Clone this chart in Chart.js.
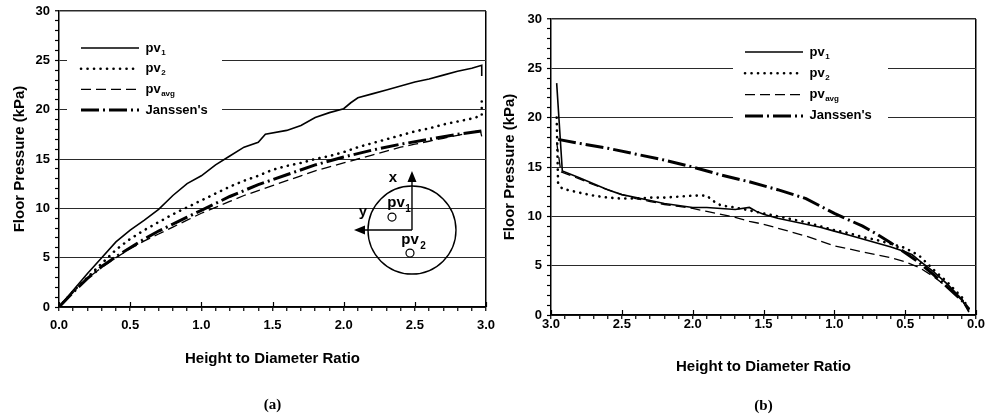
<!DOCTYPE html>
<html>
<head>
<meta charset="utf-8">
<title>Floor pressure vs height to diameter ratio</title>
<script src="https://cdn.jsdelivr.net/npm/chart.js@4.4.1/dist/chart.umd.min.js"></script>
<style>
  html, body { margin: 0; padding: 0; background: #fff; }
  #wrap { position: relative; width: 989px; height: 419px; }
  canvas { position: absolute; top: 0; }
  #chartA { left: 0; }
  #chartB { left: 495px; }
</style>
</head>
<body>
<div id="wrap">
  <canvas id="chartA" width="495" height="419"></canvas>
  <canvas id="chartB" width="494" height="419"></canvas>
</div>
<script>
// series names (legend order)
const seriesNames = ["pv1", "pv2", "pvavg", "Janssen's"];

// labelled ticks, minor ticks in between
const xMajorTicks = [0, 0.5, 1.0, 1.5, 2.0, 2.5, 3.0];
const yMajorTicks = [0, 5, 10, 15, 20, 25, 30];

// (a) filling: [height/diameter, floor pressure kPa]
const aPv1 = [[0, 0], [0.1, 1.7], [0.2, 3.4], [0.3, 5.0], [0.4, 6.6], [0.5, 7.8], [0.6, 8.8],
  [0.7, 9.9], [0.8, 11.3], [0.9, 12.5], [1.0, 13.3], [1.1, 14.4], [1.2, 15.3], [1.3, 16.2],
  [1.4, 16.7], [1.45, 17.5], [1.6, 17.9], [1.7, 18.4], [1.8, 19.2], [1.9, 19.7], [2.0, 20.1],
  [2.05, 20.7], [2.1, 21.2], [2.2, 21.6], [2.3, 22.0], [2.4, 22.4], [2.5, 22.8], [2.6, 23.1],
  [2.7, 23.5], [2.8, 23.9], [2.9, 24.2], [2.97, 24.5], [2.97, 23.4]];
const aPv2 = [[0, 0], [0.1, 1.6], [0.2, 3.0], [0.3, 4.4], [0.4, 5.8], [0.5, 6.9], [0.6, 7.8],
  [0.7, 8.6], [0.8, 9.4], [0.9, 10.1], [1.0, 10.8], [1.1, 11.5], [1.2, 12.2], [1.3, 12.8],
  [1.4, 13.3], [1.5, 13.9], [1.6, 14.3], [1.7, 14.6], [1.8, 15.0], [1.9, 15.3], [2.0, 15.7],
  [2.1, 16.2], [2.2, 16.6], [2.3, 17.0], [2.4, 17.4], [2.5, 17.8], [2.6, 18.1], [2.7, 18.5],
  [2.8, 18.8], [2.9, 19.1], [2.97, 19.4], [2.97, 21.0]];
const aPvAvg = [[0, 0], [0.1, 1.5], [0.2, 2.9], [0.3, 4.0], [0.4, 5.0], [0.5, 5.9], [0.6, 6.7],
  [0.7, 7.4], [0.8, 8.1], [0.9, 8.8], [1.0, 9.5], [1.1, 10.1], [1.2, 10.7], [1.3, 11.3],
  [1.4, 11.8], [1.5, 12.3], [1.6, 12.8], [1.7, 13.3], [1.8, 13.8], [1.9, 14.2], [2.0, 14.6],
  [2.1, 15.0], [2.2, 15.4], [2.3, 15.8], [2.4, 16.2], [2.5, 16.5], [2.6, 16.8], [2.7, 17.1],
  [2.8, 17.4], [2.9, 17.7], [2.96, 17.9], [2.97, 17.3]];
const aJanssen = [[0, 0], [0.1, 1.5], [0.2, 2.9], [0.3, 4.1], [0.4, 5.1], [0.5, 6.0], [0.6, 6.9],
  [0.7, 7.7], [0.8, 8.4], [0.9, 9.1], [1.0, 9.8], [1.2, 11.2], [1.4, 12.4], [1.6, 13.4],
  [1.8, 14.4], [2.0, 15.2], [2.2, 15.9], [2.4, 16.5], [2.6, 17.0], [2.8, 17.5], [3.0, 17.9]];

// (b) discharge: [height/diameter, floor pressure kPa]
const bPv1 = [[2.96, 23.5], [2.92, 14.6], [2.8, 13.9], [2.7, 13.3], [2.6, 12.7], [2.5, 12.2],
  [2.4, 11.9], [2.3, 11.6], [2.2, 11.3], [2.1, 11.1], [2.0, 10.9], [1.9, 10.9], [1.8, 10.8],
  [1.7, 10.7], [1.6, 10.9], [1.55, 10.5], [1.5, 10.2], [1.4, 9.8], [1.3, 9.5], [1.2, 9.2],
  [1.1, 8.9], [1.0, 8.5], [0.9, 8.1], [0.8, 7.7], [0.7, 7.3], [0.6, 6.9], [0.5, 6.4],
  [0.45, 6.1], [0.4, 5.5], [0.3, 4.4], [0.2, 3.1], [0.1, 1.6], [0.05, 0.3]];
const bPv2 = [[2.96, 20.0], [2.95, 13.3], [2.92, 12.8], [2.8, 12.4], [2.7, 12.1], [2.6, 11.9],
  [2.5, 11.8], [2.4, 11.8], [2.3, 11.9], [2.2, 11.9], [2.1, 12.0], [2.0, 12.1], [1.9, 12.1],
  [1.86, 11.6], [1.8, 11.1], [1.7, 10.9], [1.6, 10.6], [1.5, 10.3], [1.4, 10.0], [1.3, 9.7],
  [1.2, 9.4], [1.1, 9.0], [1.0, 8.6], [0.9, 8.3], [0.8, 7.9], [0.7, 7.6], [0.6, 7.2],
  [0.5, 6.8], [0.4, 6.0], [0.3, 4.6], [0.2, 3.3], [0.1, 1.8], [0.05, 0.6]];
const bPvAvg = [[2.96, 17.5], [2.93, 14.5], [2.8, 13.8], [2.7, 13.2], [2.6, 12.7], [2.5, 12.2],
  [2.4, 11.8], [2.3, 11.5], [2.2, 11.2], [2.1, 11.0], [2.0, 10.8], [1.9, 10.5], [1.8, 10.2],
  [1.7, 9.9], [1.6, 9.5], [1.5, 9.2], [1.4, 8.8], [1.3, 8.4], [1.2, 8.0], [1.1, 7.5],
  [1.0, 7.0], [0.9, 6.7], [0.8, 6.4], [0.7, 6.1], [0.6, 5.8], [0.5, 5.4], [0.4, 4.8],
  [0.3, 3.9], [0.2, 2.8], [0.1, 1.5], [0.05, 0.4]];
const bJanssen = [[2.95, 17.8], [2.8, 17.4], [2.6, 16.9], [2.4, 16.3], [2.2, 15.7], [2.0, 15.0],
  [1.8, 14.2], [1.6, 13.5], [1.4, 12.7], [1.2, 11.8], [1.0, 10.3], [0.8, 9.0], [0.7, 8.2],
  [0.6, 7.3], [0.5, 6.3], [0.4, 5.3], [0.3, 4.1], [0.2, 2.8], [0.1, 1.5], [0.05, 0.6]];

// where the silo cross-section sketch sits, in data units of chart (a)
const sketchCentre = [2.48, 7.8];

const SANS = '"Liberation Sans", Arial, Helvetica, sans-serif';
const SERIF = '"Liberation Serif", "Times New Roman", serif';
Chart.defaults.font.family = SANS;
Chart.defaults.color = "#000";

const lineStyles = [
  { borderWidth: 1.6, borderDash: [], borderCapStyle: "butt" },
  { borderWidth: 2.6, borderDash: [0.1, 6.4], borderCapStyle: "round" },
  { borderWidth: 1.3, borderDash: [10, 5], borderCapStyle: "butt" },
  { borderWidth: 3, borderDash: [18, 4, 2, 4], borderCapStyle: "butt" },
];

const isMajorX = (v) => xMajorTicks.some((t) => Math.abs(t - v) < 1e-6);
const isMajorY = (v) => yMajorTicks.some((t) => Math.abs(t - v) < 1e-6);

function makeDatasets(series) {
  return series.map((data, i) => ({
    label: seriesNames[i],
    data: data,
    borderColor: "#000",
    backgroundColor: "rgba(0,0,0,0)",
    pointRadius: 0,
    fill: false,
    tension: 0,
    ...lineStyles[i],
  }));
}

// legend sits in a white panel inside the plot, which hides the grid lines behind it
const legendPanel = {
  id: "legendPanel",
  afterLayout(chart, args, opts) {
    const lg = chart.legend;
    const lab = lg.options.labels;
    lg.left = opts.sampleX - lab.padding;
    lg.top = opts.rowY - lab.font.size / 2 - lab.padding;
    lg.right = lg.left + 260;
    lg.bottom = lg.top + 160;
    lg.width = lg.right - lg.left;
    lg.height = lg.bottom - lg.top;
  },
  beforeDatasetsDraw(chart, args, opts) {
    const ctx = chart.ctx;
    const lg = chart.legend;
    const lab = lg.options.labels;
    const fs = lab.font.size;

    ctx.save();
    ctx.fillStyle = "#fff";
    ctx.fillRect(opts.x0, opts.y0, opts.x1 - opts.x0, opts.y1 - opts.y0);
    ctx.restore();
    lg.draw();

    // subscripts of pv1, pv2, pvavg
    ctx.save();
    ctx.fillStyle = "#000";
    ctx.textBaseline = "middle";
    ctx.textAlign = "left";
    lg.legendItems.forEach((item, i) => {
      if (!item.sub) return;
      ctx.font = "bold " + fs + "px " + SANS;
      const tx = opts.sampleX + lab.pointStyleWidth + fs / 2 + ctx.measureText(item.text).width;
      const ty = opts.rowY + i * (fs + lab.padding);
      ctx.font = "bold " + Math.round(fs * 0.62) + "px " + SANS;
      ctx.fillText(item.sub, tx + 0.5, ty + fs * 0.35);
    });

    // major x ticks cross the axis line
    const xs = chart.scales.x;
    const bottom = chart.chartArea.bottom;
    ctx.strokeStyle = "#000";
    ctx.lineWidth = 1.2;
    ctx.beginPath();
    xMajorTicks.forEach((v) => {
      const px = Math.round(xs.getPixelForValue(v)) + 0.5;
      ctx.moveTo(px, bottom);
      ctx.lineTo(px, bottom - 5);
    });
    ctx.stroke();
    ctx.restore();
  },
};

// silo cross-section with the two load cell positions, chart (a) only
const siloSketch = {
  id: "siloSketch",
  afterDatasetsDraw(chart) {
    const ctx = chart.ctx;
    const cx = chart.scales.x.getPixelForValue(sketchCentre[0]);
    const cy = chart.scales.y.getPixelForValue(sketchCentre[1]);
    ctx.save();
    ctx.strokeStyle = "#000";
    ctx.fillStyle = "#000";
    ctx.lineWidth = 1.4;
    ctx.beginPath();
    ctx.arc(cx, cy, 44, 0, Math.PI * 2);
    ctx.stroke();

    ctx.beginPath();
    ctx.moveTo(cx, cy);
    ctx.lineTo(cx, cy - 50);
    ctx.moveTo(cx, cy);
    ctx.lineTo(cx - 49, cy);
    ctx.stroke();
    ctx.beginPath();
    ctx.moveTo(cx, cy - 59);
    ctx.lineTo(cx - 4.5, cy - 48);
    ctx.lineTo(cx + 4.5, cy - 48);
    ctx.closePath();
    ctx.moveTo(cx - 58, cy);
    ctx.lineTo(cx - 47, cy - 4.5);
    ctx.lineTo(cx - 47, cy + 4.5);
    ctx.closePath();
    ctx.fill();

    ctx.lineWidth = 1.2;
    ctx.beginPath();
    ctx.arc(cx - 20, cy - 13, 4, 0, Math.PI * 2);
    ctx.moveTo(cx + 2, cy + 23);
    ctx.arc(cx - 2, cy + 23, 4, 0, Math.PI * 2);
    ctx.stroke();

    ctx.textAlign = "center";
    ctx.textBaseline = "middle";
    ctx.font = "bold 15px " + SANS;
    ctx.fillText("x", cx - 19, cy - 52);
    ctx.fillText("y", cx - 49, cy - 18);
    ctx.fillText("pv", cx - 16, cy - 27);
    ctx.fillText("pv", cx - 2, cy + 10);
    ctx.font = "bold 10px " + SANS;
    ctx.fillText("1", cx - 4, cy - 21);
    ctx.fillText("2", cx + 11, cy + 16);
    ctx.restore();
  },
};

function buildOptions(cfg) {
  const tickFont = { size: 13, weight: "bold" };
  const titleFont = { size: 15, weight: "bold" };
  const legendFont = { size: 13, weight: "bold" };
  const farEdge = cfg.reverse ? 0 : 3;
  return {
    responsive: false,
    animation: false,
    devicePixelRatio: 1,
    layout: { padding: { left: 0, top: cfg.top, right: cfg.right, bottom: 0 } },
    plugins: {
      tooltip: { enabled: false },
      legend: {
        display: true,
        position: "chartArea",
        align: "start",
        labels: {
          usePointStyle: true,
          pointStyle: "line",
          pointStyleWidth: 58,
          padding: cfg.legendGap,
          color: "#000",
          font: legendFont,
          generateLabels: (chart) =>
            chart.data.datasets.map((ds, i) => {
              const m = /^pv(.+)$/.exec(ds.label);
              return {
                text: m ? "pv" : ds.label,
                sub: m ? m[1] : "",
                fillStyle: "rgba(0,0,0,0)",
                strokeStyle: ds.borderColor,
                lineWidth: ds.borderWidth,
                lineDash: ds.borderDash,
                lineCap: ds.borderCapStyle,
                pointStyle: "line",
                rotation: 0,
                hidden: false,
                fontColor: "#000",
                datasetIndex: i,
              };
            }),
        },
      },
      title: {
        display: true,
        text: cfg.caption,
        position: "bottom",
        fullSize: false,
        color: "#000",
        font: { family: SERIF, size: 15, weight: "bold" },
        padding: { top: 0, bottom: cfg.captionPad },
      },
      legendPanel: cfg.panel,
    },
    scales: {
      x: {
        type: "linear",
        min: 0,
        max: 3,
        reverse: cfg.reverse,
        afterFit: (s) => {
          s.height = cfg.xAxisHeight;
          s.paddingLeft = 0;
          s.paddingRight = 0;
        },
        border: { display: true, color: "#000", width: 1.5 },
        grid: {
          drawOnChartArea: true,
          drawTicks: true,
          tickLength: 4,
          tickColor: "#000",
          tickWidth: 1.2,
          lineWidth: 1.5,
          color: (c) => (c.tick && Math.abs(c.tick.value - farEdge) < 1e-6 ? "#000" : "rgba(0,0,0,0)"),
        },
        ticks: {
          stepSize: 0.1,
          maxTicksLimit: 100,
          autoSkip: false,
          maxRotation: 0,
          minRotation: 0,
          padding: cfg.xTickPad,
          color: "#000",
          font: tickFont,
          callback: (v) => (isMajorX(v) ? Number(v).toFixed(1) : ""),
        },
        title: {
          display: true,
          text: "Height to Diameter Ratio",
          color: "#000",
          font: titleFont,
          padding: { top: 0, bottom: cfg.xTitlePad },
        },
      },
      y: {
        type: "linear",
        min: 0,
        max: 30,
        afterFit: (s) => {
          s.width = cfg.yAxisWidth;
          s.paddingTop = 0;
          s.paddingBottom = 0;
        },
        border: { display: true, color: "#000", width: 1.5 },
        grid: {
          drawTicks: true,
          tickLength: 4,
          tickColor: "#000",
          tickWidth: 1.2,
          color: (c) => (c.tick && isMajorY(c.tick.value) ? "#2a2a2a" : "rgba(0,0,0,0)"),
          lineWidth: (c) => (c.tick && c.tick.value === 30 ? 1.5 : 1),
        },
        ticks: {
          stepSize: 1,
          maxTicksLimit: 100,
          autoSkip: false,
          padding: 5,
          color: "#000",
          font: tickFont,
          callback: (v) => (isMajorY(v) ? String(v) : ""),
        },
        title: {
          display: true,
          text: "Floor Pressure (kPa)",
          color: "#000",
          font: titleFont,
          padding: { top: cfg.yTitlePad, bottom: 0 },
        },
      },
    },
  };
}

new Chart(document.getElementById("chartA"), {
  type: "line",
  data: { datasets: makeDatasets([aPv1, aPv2, aPvAvg, aJanssen]) },
  options: buildOptions({
    caption: "(a)",
    reverse: false,
    top: 11,
    right: 9,
    yAxisWidth: 59,
    xAxisHeight: 89,
    captionPad: 5,
    xTickPad: 7,
    xTitlePad: 28,
    yTitlePad: 11,
    legendGap: 7.7,
    panel: { sampleX: 81, rowY: 48, x0: 67, y0: 30, x1: 222, y1: 131 },
  }),
  plugins: [legendPanel, siloSketch],
});

new Chart(document.getElementById("chartB"), {
  type: "line",
  data: { datasets: makeDatasets([bPv1, bPv2, bPvAvg, bJanssen]) },
  options: buildOptions({
    caption: "(b)",
    reverse: true,
    top: 19,
    right: 13,
    yAxisWidth: 56,
    xAxisHeight: 82,
    captionPad: 4,
    xTickPad: -2,
    xTitlePad: 21,
    yTitlePad: 6,
    legendGap: 8.3,
    panel: { sampleX: 250, rowY: 52, x0: 238, y0: 36, x1: 393, y1: 137 },
  }),
  plugins: [legendPanel],
});
</script>
</body>
</html>
